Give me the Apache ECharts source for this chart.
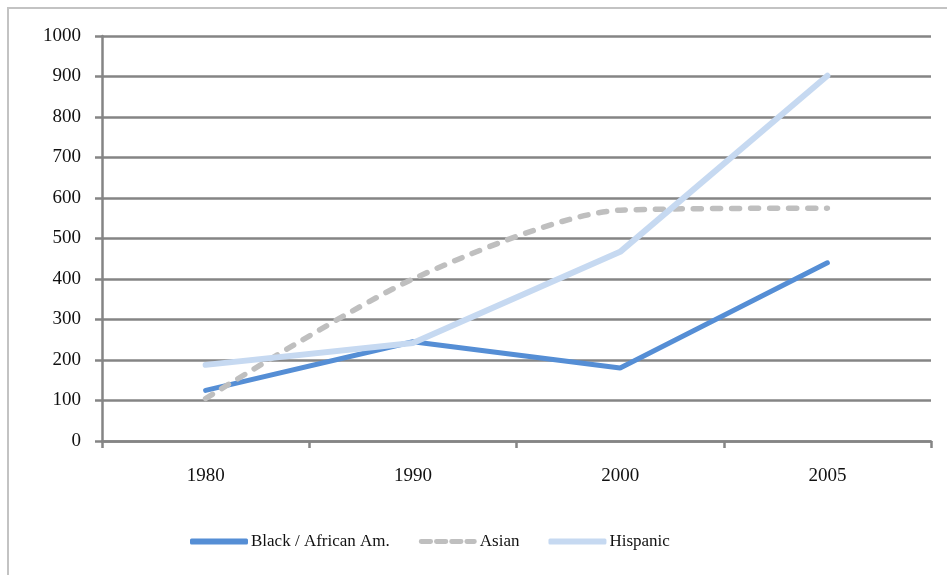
<!DOCTYPE html>
<html>
<head>
<meta charset="utf-8">
<script src="https://cdn.jsdelivr.net/npm/echarts@6/dist/echarts.min.js"></script>
<style>
html,body{margin:0;padding:0;background:#fff;}
#chart{width:947px;height:575px;}
</style>
</head>
<body>
<div id="chart"></div>
<script>
const categories = ['1980', '1990', '2000', '2005'];
const blackValues = [125, 245, 180, 440];
const asianValues = [105, 400, 570, 575];
const hispanicValues = [188, 242, 467, 902];
const yTicks = [0, 100, 200, 300, 400, 500, 600, 700, 800, 900, 1000];

const FONT = '"Liberation Serif", "DejaVu Serif", serif';
const AXIS = '#858585';
const DASH_ICON = 'path://M2,0h10a2,2 0 0 1 0,5h-10a2,2 0 0 1 0,-5z M18,0h10a2,2 0 0 1 0,5h-10a2,2 0 0 1 0,-5z M34,0h10a2,2 0 0 1 0,5h-10a2,2 0 0 1 0,-5z M50,0h8a2,2 0 0 1 0,5h-8a2,2 0 0 1 0,-5z';

const chart = echarts.init(document.getElementById('chart'), null, {renderer: 'canvas'});
chart.setOption({
  animation: false,
  backgroundColor: '#fff',
  textStyle: {fontFamily: FONT},
  graphic: [{
    type: 'rect', silent: true, z: -1,
    shape: {x: 8, y: 8, width: 1000, height: 700},
    style: {fill: 'none', stroke: '#c3c3c3', lineWidth: 2}
  }],
  grid: {left: 102, right: 16, top: 36, bottom: 134, containLabel: false},
  legend: {
    top: 528,
    left: 185,
    itemWidth: 58,
    itemHeight: 6,
    itemGap: 29,
    textStyle: {fontFamily: FONT, fontSize: 17, color: '#111', padding: [0, 0, 0, -2]},
    data: [
      {name: 'Black / African Am.', icon: 'roundRect'},
      {name: 'Asian', icon: DASH_ICON},
      {name: 'Hispanic', icon: 'roundRect'}
    ]
  },
  xAxis: {
    type: 'category',
    data: categories,
    boundaryGap: true,
    axisLine: {lineStyle: {color: AXIS, width: 2.5}},
    axisTick: {show: true, length: 7, lineStyle: {color: AXIS, width: 2.5}},
    axisLabel: {fontFamily: FONT, fontSize: 19, color: '#111', margin: 26}
  },
  yAxis: {
    type: 'value',
    min: 0, max: 1000, interval: 100,
    axisLine: {show: true, lineStyle: {color: AXIS, width: 2.5}},
    axisTick: {show: true, length: 7, lineStyle: {color: AXIS, width: 2.5}},
    splitLine: {show: true, lineStyle: {color: AXIS, width: 2.5}},
    axisLabel: {
      fontFamily: FONT, fontSize: 19, color: '#111', margin: 21,
      formatter: v => yTicks.includes(v) ? String(v) : ''
    }
  },
  series: [
    {
      name: 'Black / African Am.', type: 'line', data: blackValues,
      symbol: 'none', color: '#558ed5',
      itemStyle: {color: '#558ed5'},
      lineStyle: {color: '#558ed5', width: 5, cap: 'round'}
    },
    {
      name: 'Asian', type: 'line', data: asianValues,
      symbol: 'none', smooth: 0.25, color: '#bfbfbf',
      itemStyle: {color: '#bfbfbf'},
      lineStyle: {color: '#bfbfbf', width: 5.5, type: [8, 11], cap: 'round'}
    },
    {
      name: 'Hispanic', type: 'line', data: hispanicValues,
      symbol: 'none', color: '#c6d9f1',
      itemStyle: {color: '#c6d9f1'},
      lineStyle: {color: '#c6d9f1', width: 6, cap: 'round'}
    }
  ]
});
</script>
</body>
</html>
